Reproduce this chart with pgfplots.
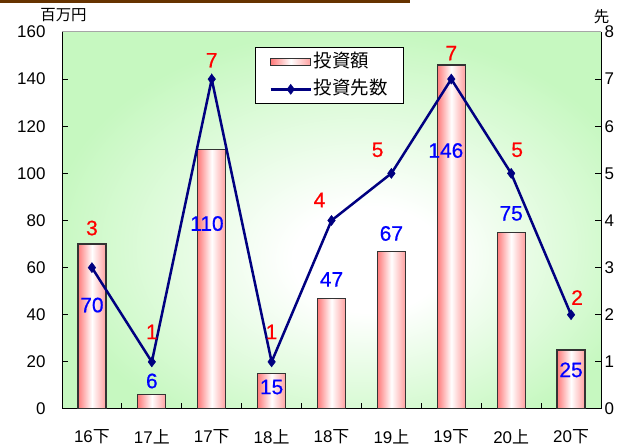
\documentclass[border=0pt]{standalone}
\usepackage{fontspec}
\setmainfont{Liberation Sans}
\newfontfamily\cjk{Noto Sans CJK JP}
\newfontfamily\lblfam{Liberation Sans}[FakeBold=0.6]
\usepackage{pgfplots}
\pgfplotsset{compat=1.18}

\definecolor{bggreen}{RGB}{198,248,192}
\definecolor{barpink}{RGB}{255,122,122}
\definecolor{barpinkr}{RGB}{255,160,160}
\definecolor{navyline}{RGB}{0,0,128}
\definecolor{brownbar}{RGB}{102,51,0}
\definecolor{lblred}{RGB}{255,0,0}
\definecolor{lblblue}{RGB}{0,0,255}

% plot-area background: white centre fading to light green
\pgfdeclareradialshading{plotbg}{\pgfpoint{4bp}{-6bp}}{%
  color(0bp)=(white); color(7bp)=(white); color(28bp)=(bggreen); color(50bp)=(bggreen)}

\newcommand{\tickfont}{\fontsize{17}{20}\selectfont}
\newcommand{\lblfont}{\lblfam\fontsize{21}{24}\selectfont}

\pgfplotsset{
  barswatch/.style={legend image code/.code={\draw[##1] (0bp,-3.5bp) rectangle (40bp,3.5bp);}},
  lineswatch/.style={legend image code/.code={\draw[mark repeat=2, mark phase=2, ##1] plot coordinates {(0bp,0bp) (20bp,0bp) (40bp,0bp)};}},
  % each bar is its own plot so that the pink-white-pink shading runs across every bar
  pinkbar/.style={ybar, bar width=28bp, bar shift=0pt, draw=black!80, line width=1.2bp,
    left color=barpink, right color=barpinkr, middle color=white},
}

\begin{document}
\begin{tikzpicture}[x=1bp,y=1bp]
\path[use as bounding box] (0,0) rectangle (626,447);
\fill[brownbar] (0,443.5) rectangle (410,447);

% amounts (left axis, million yen)
\begin{axis}[
  at={(62bp,38bp)}, anchor=south west,
  scale only axis, width=539bp, height=377bp,
  xmin=-0.5, xmax=8.5, ymin=0, ymax=160,
  axis x line*=bottom, axis y line*=left,
  axis line style={black, line width=1bp, -},
  axis background/.style={shade, shading=plotbg},
  xtick={0,...,8},
  xticklabels={16{\cjk 下},17{\cjk 上},17{\cjk 下},18{\cjk 上},18{\cjk 下},19{\cjk 上},19{\cjk 下},20{\cjk 上},20{\cjk 下}},
  major x tick style={draw=none},
  minor xtick={0.5,1.5,...,7.5},
  minor x tick style={black, line width=1bp},
  minor tick length=6bp,
  ytick={0,20,...,160},
  tick align=inside,
  major tick length=6bp,
  major y tick style={black, line width=1bp},
  /pgf/number format/assume math mode=true,
  yticklabel style={font=\tickfont, xshift=-13bp},
  xticklabel style={font=\tickfont, yshift=-17bp},
]
\addplot[pinkbar] coordinates {(0,70)};
\addplot[pinkbar] coordinates {(1,6)};
\addplot[pinkbar] coordinates {(2,110)};
\addplot[pinkbar] coordinates {(3,15)};
\addplot[pinkbar] coordinates {(4,47)};
\addplot[pinkbar] coordinates {(5,67)};
\addplot[pinkbar] coordinates {(6,146)};
\addplot[pinkbar] coordinates {(7,75)};
\addplot[pinkbar] coordinates {(8,25)};
\end{axis}

% number of investees (right axis)
\begin{axis}[
  at={(62bp,38bp)}, anchor=south west,
  scale only axis, width=539bp, height=377bp,
  xmin=-0.5, xmax=8.5, ymin=0, ymax=8,
  axis x line=none, axis y line*=right,
  axis line style={black, line width=1bp, -},
  ytick={0,...,8},
  tick align=inside,
  major tick length=6bp,
  major y tick style={black, line width=1bp},
  /pgf/number format/assume math mode=true,
  yticklabel style={font=\tickfont},
  clip=false,
  legend cell align=left,
  legend style={at={(0.358,0.960)}, anchor=north west,
    draw=black, line width=1bp, fill=white,
    font=\cjk\fontsize{18.5}{21}\selectfont,
    inner xsep=14bp, inner ysep=2.75bp, row sep=4.5bp,
    nodes={inner sep=2bp, text height=15bp, text depth=4bp},
    /tikz/every even column/.append style={column sep=1bp}},
]
\addlegendimage{barswatch, draw=black!80, line width=1bp, left color=barpink, right color=barpinkr, middle color=white}
\addlegendentry{投資額}
\addplot[lineswatch, navyline, line width=2.5bp, mark=diamond*, mark size=5bp,
  mark options={solid, fill=navyline, line width=0.5bp}]
  coordinates {(0,3) (1,1) (2,7) (3,1) (4,4) (5,5) (6,7) (7,5) (8,2)};
\addlegendentry{投資先数}

% counts (red), amounts (blue)
\begin{scope}[every node/.style={font=\lblfont, text=lblred}]
\node at (axis cs:0,3.84) {3};
\node at (axis cs:1,1.635) {1};
\node at (axis cs:2,7.40) {7};
\node at (axis cs:3,1.635) {1};
\node at (axis cs:3.8,4.435) {4};
\node at (axis cs:4.77,5.50) {5};
\node at (axis cs:6,7.55) {7};
\node at (axis cs:7.1,5.50) {5};
\node at (axis cs:8.1,2.365) {2};
\end{scope}
\begin{scope}[every node/.style={font=\lblfont, text=lblblue}]
\node at (axis cs:0,2.205) {70};
\node at (axis cs:1,0.595) {6};
\node at (axis cs:1.92,3.935) {110};
\node at (axis cs:3,0.465) {15};
\node at (axis cs:4,2.75) {47};
\node at (axis cs:5,3.725) {67};
\node at (axis cs:5.91,5.485) {146};
\node at (axis cs:7,4.15) {75};
\node at (axis cs:8,0.83) {25};
\end{scope}
\end{axis}

\draw[gray!70, line width=1bp] (62,415) -- (601,415);
\node[font=\cjk\fontsize{15.5}{18}\selectfont] at (63.5,431.5) {百万円};
\node[font=\cjk\fontsize{15.5}{18}\selectfont] at (601.5,430.5) {先};
\end{tikzpicture}
\end{document}
